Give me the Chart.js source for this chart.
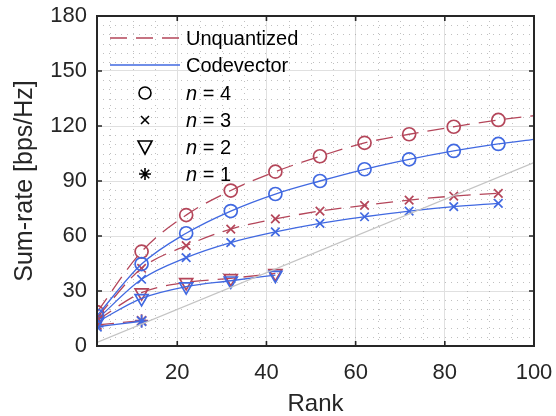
<!DOCTYPE html>
<html>
<head>
<meta charset="utf-8">
<script src="https://cdn.jsdelivr.net/npm/chart.js@4.4.1/dist/chart.umd.min.js"></script>
<style>
  html, body { margin: 0; padding: 0; background: #fff; }
  #wrap { width: 556px; height: 416px; position: relative; }
</style>
</head>
<body>
<div id="wrap"><canvas id="chart-sumrate"></canvas></div>
<script>
// rank positions where each curve is sampled
var ranks4 = [2, 12, 22, 32, 42, 52, 62, 72, 82, 92, 100];
var ranks3 = [2, 12, 22, 32, 42, 52, 62, 72, 82, 92];
var ranks2 = [2, 12, 22, 32, 42];
var ranks1 = [2, 12];
// ranks that carry a marker
var markerRanks = [2, 12, 22, 32, 42, 52, 62, 72, 82, 92];

// sum-rate [bps/Hz]
var unquant4 = [18.5, 51.5, 71.4, 84.8, 95.1, 103.5, 110.8, 115.5, 119.6, 123.3, 125.6];
var codevec4 = [16.5, 44.7, 61.5, 73.6, 82.9, 90.0, 96.4, 101.8, 106.4, 110.2, 112.7];
var unquant3 = [15.5, 42.4, 54.7, 63.8, 69.3, 73.6, 76.7, 79.6, 81.8, 83.3];
var codevec3 = [14.5, 36.4, 48.2, 56.4, 62.2, 66.9, 70.5, 73.6, 76.0, 77.8];
var unquant2 = [14.0, 29.1, 34.7, 36.9, 39.6];
var codevec2 = [13.0, 26.0, 32.4, 35.6, 38.7];
var unquant1 = [11.5, 13.8];
var codevec1 = [10.5, 13.5];

// reference line (sum-rate = rank)
var refX = [2, 100];
var refY = [2, 100];

var xTicks = [20, 40, 60, 80, 100];
var yTicks = [0, 30, 60, 90, 120, 150, 180];

var RED = '#b4465a';
var BLUE = '#4169e1';
var AXIS = '#262626';
var FONT = '"Liberation Sans", Arial, Helvetica, sans-serif';

function pts(xs, ys) {
    var out = [];
    for (var i = 0; i < ys.length; i++) out.push({x: xs[i], y: ys[i]});
    return out;
}

function series(label, xs, ys, color, dashed, style, radius, rotation) {
    return {
        label: label,
        data: pts(xs, ys),
        showLine: true,
        borderColor: color,
        borderWidth: 1.3,
        borderDash: dashed ? [17, 9] : [],
        cubicInterpolationMode: 'monotone',
        pointStyle: style,
        pointRotation: rotation || 0,
        pointRadius: function (ctx) {
            var p = ctx.raw;
            return p && markerRanks.indexOf(p.x) >= 0 ? radius : 0;
        },
        pointHoverRadius: 0,
        pointBorderColor: color,
        pointBackgroundColor: 'rgba(0,0,0,0)',
        pointBorderWidth: 1.7,
        fill: false
    };
}

// minor dotted grid, box and inward ticks
var axesBox = {
    id: 'axesBox',
    beforeDatasetsDraw: function (chart) {
        var c = chart.ctx, a = chart.chartArea;
        var xs = chart.scales.x, ys = chart.scales.y;
        c.save();
        c.strokeStyle = 'rgba(130,130,130,0.5)';
        c.lineWidth = 1;
        c.setLineDash([1, 5]);
        for (var v = 5; v < 100; v += 5) {
            if (v % 20 === 0) continue;
            var px = Math.round(xs.getPixelForValue(v)) + 0.5;
            c.beginPath(); c.moveTo(px, a.bottom); c.lineTo(px, a.top); c.stroke();
        }
        for (var w = 5; w < 180; w += 5) {
            if (w % 30 === 0) continue;
            var py = Math.round(ys.getPixelForValue(w)) + 0.5;
            c.beginPath(); c.moveTo(a.left, py); c.lineTo(a.right, py); c.stroke();
        }
        c.restore();
    },
    afterDatasetsDraw: function (chart) {
        var c = chart.ctx, a = chart.chartArea;
        var xs = chart.scales.x, ys = chart.scales.y;
        var len = 5;
        c.save();
        c.strokeStyle = AXIS;
        c.lineWidth = 1.6;
        c.setLineDash([]);
        xTicks.forEach(function (v) {
            var px = xs.getPixelForValue(v);
            c.beginPath();
            c.moveTo(px, a.bottom); c.lineTo(px, a.bottom - len);
            c.moveTo(px, a.top); c.lineTo(px, a.top + len);
            c.stroke();
        });
        yTicks.forEach(function (v) {
            var py = ys.getPixelForValue(v);
            c.beginPath();
            c.moveTo(a.left, py); c.lineTo(a.left + len, py);
            c.moveTo(a.right, py); c.lineTo(a.right - len, py);
            c.stroke();
        });
        c.lineWidth = 2;
        c.strokeRect(a.left, a.top, a.right - a.left, a.bottom - a.top);
        c.restore();
    }
};

function drawMarker(c, kind, x, y) {
    c.beginPath();
    if (kind === 'circle') {
        c.arc(x, y, 6, 0, Math.PI * 2);
    } else if (kind === 'cross') {
        c.moveTo(x - 4, y - 4); c.lineTo(x + 4, y + 4);
        c.moveTo(x + 4, y - 4); c.lineTo(x - 4, y + 4);
    } else if (kind === 'tri') {
        c.moveTo(x - 7, y - 6); c.lineTo(x + 7, y - 6); c.lineTo(x, y + 7); c.closePath();
    } else {
        for (var k = 0; k < 4; k++) {
            var ang = k * Math.PI / 4;
            c.moveTo(x - 6 * Math.cos(ang), y - 6 * Math.sin(ang));
            c.lineTo(x + 6 * Math.cos(ang), y + 6 * Math.sin(ang));
        }
    }
    c.stroke();
}

var legendBox = {
    id: 'legendBox',
    afterDraw: function (chart) {
        var c = chart.ctx;
        c.save();
        c.textBaseline = 'middle';
        c.fillStyle = '#000';
        c.font = '20px ' + FONT;

        c.lineWidth = 1.3;
        c.strokeStyle = RED;
        c.setLineDash([17, 9]);
        c.beginPath(); c.moveTo(110, 38); c.lineTo(180, 38); c.stroke();
        c.fillText('Unquantized', 186, 39);

        c.strokeStyle = BLUE;
        c.setLineDash([]);
        c.beginPath(); c.moveTo(110, 65); c.lineTo(180, 65); c.stroke();
        c.fillText('Codevector', 186, 66);

        var rows = [['circle', '4', 93], ['cross', '3', 120], ['tri', '2', 147], ['star', '1', 174]];
        c.strokeStyle = '#000';
        c.lineWidth = 1.6;
        rows.forEach(function (r) {
            drawMarker(c, r[0], 145, r[2]);
            c.font = 'italic 20px ' + FONT;
            c.fillText('n', 186, r[2] + 1);
            var w = c.measureText('n').width;
            c.font = '20px ' + FONT;
            c.fillText(' = ' + r[1], 186 + w, r[2] + 1);
        });
        c.restore();
    }
};

var sumrateChart = new Chart(document.getElementById('chart-sumrate').getContext('2d'), {
    type: 'scatter',
    data: {
        datasets: [
            {
                label: 'rank',
                data: pts(refX, refY),
                showLine: true,
                borderColor: '#c4c4c4',
                borderWidth: 1.2,
                pointRadius: 0,
                pointHoverRadius: 0
            },
            series('Codevector n=4', ranks4, codevec4, BLUE, false, 'circle', 6.5),
            series('Unquantized n=4', ranks4, unquant4, RED, true, 'circle', 6.5),
            series('Codevector n=3', ranks3, codevec3, BLUE, false, 'crossRot', 6),
            series('Unquantized n=3', ranks3, unquant3, RED, true, 'crossRot', 6),
            series('Codevector n=2', ranks2, codevec2, BLUE, false, 'triangle', 7.5, 180),
            series('Unquantized n=2', ranks2, unquant2, RED, true, 'triangle', 7.5, 180),
            series('Codevector n=1', ranks1, codevec1, BLUE, false, 'star', 6.5),
            series('Unquantized n=1', ranks1, unquant1, RED, true, 'star', 6.5)
        ]
    },
    options: {
        responsive: true,
        maintainAspectRatio: false,
        animation: false,
        events: [],
        layout: { padding: { top: 16, right: 22, left: 0, bottom: 0 } },
        plugins: {
            legend: { display: false },
            tooltip: { enabled: false }
        },
        scales: {
            x: {
                type: 'linear',
                min: 2,
                max: 100,
                border: { display: false },
                grid: { color: '#e0e0e0', lineWidth: 1, drawTicks: false },
                afterBuildTicks: function (scale) {
                    scale.ticks = xTicks.map(function (v) { return {value: v}; });
                },
                afterFit: function (scale) {
                    scale.height = 70;
                    scale.paddingLeft = 0;
                    scale.paddingRight = 0;
                },
                ticks: {
                    color: AXIS,
                    padding: 14,
                    maxRotation: 0,
                    font: { family: FONT, size: 22 }
                },
                title: {
                    display: true,
                    text: 'Rank',
                    color: AXIS,
                    padding: { top: 0, bottom: 0 },
                    font: { family: FONT, size: 24, lineHeight: 1 }
                }
            },
            y: {
                type: 'linear',
                min: 0,
                max: 180,
                border: { display: false },
                grid: { color: '#e0e0e0', lineWidth: 1, drawTicks: false },
                afterBuildTicks: function (scale) {
                    scale.ticks = yTicks.map(function (v) { return {value: v}; });
                },
                afterFit: function (scale) {
                    scale.width = 97;
                    scale.paddingTop = 0;
                    scale.paddingBottom = 0;
                },
                ticks: {
                    color: AXIS,
                    padding: 10,
                    font: { family: FONT, size: 22 }
                },
                title: {
                    display: true,
                    text: 'Sum-rate [bps/Hz]',
                    color: AXIS,
                    padding: { top: 10, bottom: 0 },
                    font: { family: FONT, size: 25 }
                }
            }
        }
    },
    plugins: [axesBox, legendBox]
});
</script>
</body>
</html>
